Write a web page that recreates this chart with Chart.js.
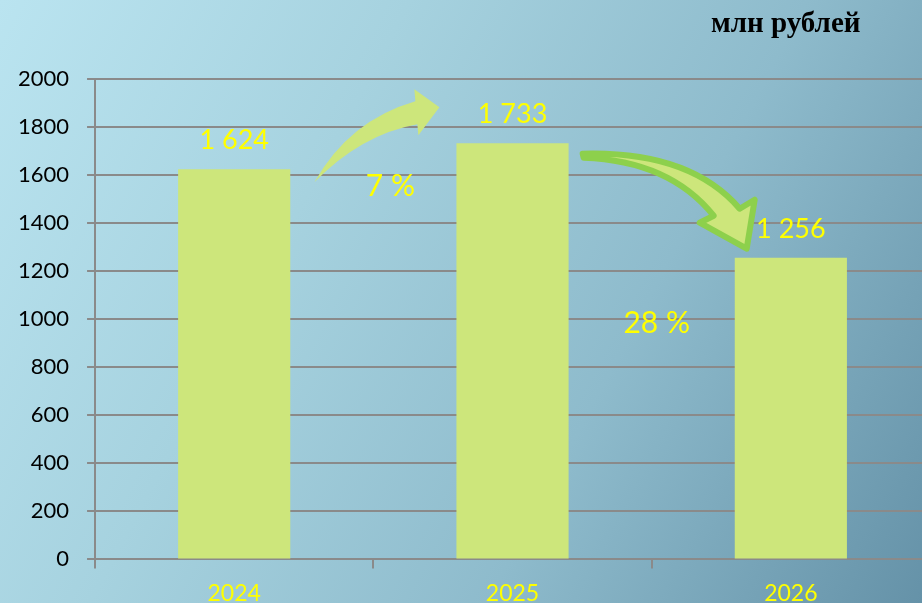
<!DOCTYPE html>
<html>
<head>
<meta charset="utf-8">
<script src="https://cdn.jsdelivr.net/npm/chart.js@4.4.0/dist/chart.umd.min.js"></script>
<style>
  html, body { margin: 0; padding: 0; width: 922px; height: 603px; overflow: hidden; }
  body { background: linear-gradient(118deg, #bae4f0 0%, #a6d2df 33%, #8ebbcc 65%, #6592a8 100%); position: relative; }
  #wrap { position: absolute; left: 0; top: 0; width: 932px; height: 618px; }
  #unit { position: absolute; left: 711px; top: 6px; font: bold 29px "Liberation Serif", serif; color: #000; }
</style>
</head>
<body>
<div id="wrap"><canvas id="chart" width="932" height="618"></canvas></div>
<div id="unit">млн рублей</div>
<script>
// budget by year, mln rub
const years = ['2024', '2025', '2026'];
const amounts = [1624, 1733, 1256];
const amountLabels = ['1 624', '1 733', '1 256'];
const changeLabels = ['7 %', '28 %'];
const yTicks = { min: 0, max: 2000, step: 200 };

const BAR = '#cde67b';
const YELLOW = '#ffff00';
const GRID = '#8a8a8a';

// value labels above bars
const valueLabels = {
  id: 'valueLabels',
  afterDatasetsDraw(chart) {
    const ctx = chart.ctx;
    const meta = chart.getDatasetMeta(0);
    ctx.save();
    ctx.font = '27px Lato';
    ctx.fillStyle = YELLOW;
    ctx.textAlign = 'center';
    ctx.textBaseline = 'alphabetic';
    meta.data.forEach((bar, i) => {
      ctx.fillText(amountLabels[i], bar.x, bar.y - 20);
    });
    ctx.restore();
  }
};

// the two curved arrows with the % change
function shape(ctx, ax, ay, cmds) {
  ctx.beginPath();
  cmds.forEach(c => {
    if (c[0] === 'M') ctx.moveTo(ax + c[1], ay + c[2]);
    else if (c[0] === 'L') ctx.lineTo(ax + c[1], ay + c[2]);
    else if (c[0] === 'Q') ctx.quadraticCurveTo(ax + c[1], ay + c[2], ax + c[3], ay + c[4]);
  });
  ctx.closePath();
}

const arrows = {
  id: 'arrows',
  afterDatasetsDraw(chart) {
    const ctx = chart.ctx;
    const x = chart.scales.x, y = chart.scales.y;
    const b1 = (x.getPixelForValue(0) + x.getPixelForValue(1)) / 2;
    const b2 = (x.getPixelForValue(1) + x.getPixelForValue(2)) / 2;
    const a1y = y.getPixelForValue(amounts[1]);
    const a2y = y.getPixelForValue(amounts[2]);
    ctx.save();
    // up arrow
    shape(ctx, b1, a1y, [
      ['M', -59, 39], ['Q', -24, -23, 42, -42], ['L', 41, -54], ['L', 66, -36],
      ['L', 45, -8], ['L', 44, -19], ['Q', -12, -9, -59, 39]
    ]);
    ctx.fillStyle = BAR;
    ctx.fill();
    // down arrow
    shape(ctx, b2, a2y, [
      ['M', -69, -104], ['Q', 38, -107, 88, -49], ['L', 103, -58], ['L', 95, -9],
      ['L', 48, -35], ['L', 62, -42], ['Q', 18, -97, -68, -100]
    ]);
    ctx.fill();
    ctx.lineJoin = 'round';
    ctx.lineWidth = 6;
    ctx.strokeStyle = '#8dd04c';
    ctx.stroke();

    ctx.font = '30px Lato';
    ctx.fillStyle = YELLOW;
    ctx.textAlign = 'center';
    ctx.textBaseline = 'middle';
    ctx.fillText(changeLabels[0], b1 + 17, a1y + 43);
    ctx.fillText(changeLabels[1], b2 + 5, a2y + 66);
    ctx.restore();
  }
};

new Chart(document.getElementById('chart'), {
  type: 'bar',
  data: {
    labels: years,
    datasets: [{
      data: amounts,
      backgroundColor: BAR,
      categoryPercentage: 1,
      barPercentage: 0.403
    }]
  },
  options: {
    responsive: false,
    animation: false,
    layout: { padding: { top: 79, right: 2, left: 0, bottom: 0 } },
    plugins: { legend: { display: false }, tooltip: { enabled: false } },
    scales: {
      x: {
        grid: { drawOnChartArea: false, color: GRID, lineWidth: 2, tickLength: 9 },
        border: { color: GRID, width: 2 },
        ticks: { color: YELLOW, font: { family: 'Lato', size: 23 }, padding: 11 }
      },
      y: {
        min: yTicks.min,
        max: yTicks.max,
        grid: { color: GRID, lineWidth: 2, tickLength: 8 },
        border: { color: GRID, width: 2 },
        ticks: {
          stepSize: yTicks.step, color: '#000', font: { family: 'Lato', size: 22 }, padding: 18,
          callback: v => String(v)
        }
      }
    }
  },
  plugins: [valueLabels, arrows]
});
</script>
</body>
</html>
